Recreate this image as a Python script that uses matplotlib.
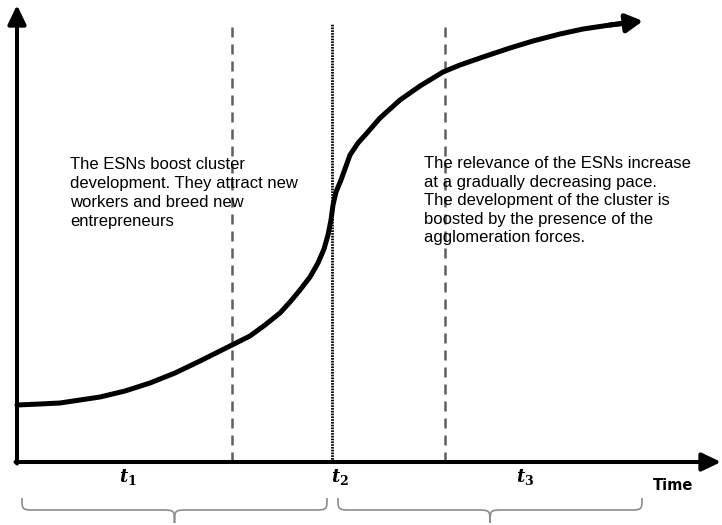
import matplotlib
matplotlib.use('Agg')
import matplotlib.pyplot as plt
from matplotlib.path import Path
from matplotlib.patches import PathPatch

plt.rcParams['font.family'] = ['Liberation Sans', 'DejaVu Sans']
plt.rcParams['mathtext.fontset'] = 'dejavuserif'

# S-shaped cluster development curve (time, development level)
curve_t = [0, 23, 43, 63, 83, 108, 133, 158, 183, 203, 215, 233, 248, 263, 273,
           283, 293, 301, 307, 311, 314, 316, 319, 324, 333, 341, 350, 363,
           383, 403, 426, 443, 466, 493, 516, 543, 566, 593, 616, 626]
curve_v = [57, 58, 59, 62, 65, 71, 79, 89, 101, 111, 117, 126, 137, 149, 160,
           172, 185, 199, 213, 227, 242, 257, 270, 282, 307, 319, 329, 344,
           362, 376, 390, 397, 405, 414, 421, 428, 433, 437, 440, 441]

dashed_t = [215, 428]          # period boundaries (dashed)
dashed_top = 442
mid_t = 315                    # inflection point t2 (dotted)
mid_top = 438

time_labels = [r'$\mathbfit{t}_{\mathbf{1}}$', r'$\mathbfit{t}_{\mathbf{2}}$',
               r'$\mathbfit{t}_{\mathbf{3}}$']
time_label_t = [111, 323, 508]

brace_spans = [(5, 310), (321, 625)]

left_text = ("The ESNs boost cluster\ndevelopment. They attract new\n"
             "workers and breed new\nentrepreneurs")
right_text = ("The relevance of the ESNs increase\nat a gradually decreasing pace.\n"
              "The development of the cluster is\nboosted by the presence of the\n"
              "agglomeration forces.")

fig = plt.figure(figsize=(7.22, 5.25), dpi=100)
ax = fig.add_axes([0, 0, 1, 1])
ax.set_xlim(-17, 705)
ax.set_ylim(-63, 462)
ax.axis('off')

# axes with arrows
arrow_kw = dict(arrowstyle='-|>,head_length=1.15,head_width=0.55', lw=2.9,
                color='black', mutation_scale=10, shrinkA=0, shrinkB=0)
ax.annotate('', xy=(0, 457), xytext=(0, -1.5), arrowprops=arrow_kw)
ax.annotate('', xy=(704, 0), xytext=(-1.5, 0), arrowprops=arrow_kw)

# vertical guides
ax.vlines(dashed_t, 0, dashed_top, colors='#5e5e5e', lw=1.8,
          linestyles=(0, (4.0, 2.8)), zorder=1)
ax.vlines(mid_t, 0, mid_top, colors='black', lw=2.0,
          linestyles=(0, (0.6, 0.4)), zorder=1)

# development curve
ax.plot(curve_t[:-1], curve_v[:-1], color='black', lw=3.6,
        solid_capstyle='round', solid_joinstyle='round', zorder=3)
ax.annotate('', xy=(curve_t[-1], curve_v[-1]), xytext=(curve_t[-3], curve_v[-3]),
            arrowprops=dict(arrowstyle='-|>,head_length=1.0,head_width=0.55',
                            lw=3.6, color='black', mutation_scale=10,
                            shrinkA=0, shrinkB=0), zorder=3)

# text blocks
ax.text(53, 305, left_text, fontsize=12, va='top', ha='left', linespacing=1.33)
ax.text(407, 306, right_text, fontsize=12, va='top', ha='left', linespacing=1.3)

for lbl, t in zip(time_labels, time_label_t):
    ax.text(t, -5, lbl, fontsize=13, va='top', ha='center')
ax.text(656, -23, 'Time', fontsize=10.5, fontweight='bold', family='DejaVu Sans',
        va='center', ha='center')

# curly braces under the periods
yt, ym, yb, r = -36, -48, -61, 14
for x0, x1 in brace_spans:
    xm = (x0 + x1) / 2
    verts = [(x0, yt), (x0, ym), (x0, ym), (x0 + r, ym),
             (xm - r, ym),
             (xm, ym), (xm, ym), (xm, yb),
             (xm, ym), (xm, ym), (xm + r, ym),
             (x1 - r, ym),
             (x1, ym), (x1, ym), (x1, yt)]
    codes = [Path.MOVETO, Path.CURVE4, Path.CURVE4, Path.CURVE4,
             Path.LINETO,
             Path.CURVE4, Path.CURVE4, Path.CURVE4,
             Path.CURVE4, Path.CURVE4, Path.CURVE4,
             Path.LINETO,
             Path.CURVE4, Path.CURVE4, Path.CURVE4]
    ax.add_patch(PathPatch(Path(verts, codes), fc='none', ec='#8c8c8c', lw=1.2))

fig.savefig('out.png', dpi=100)
